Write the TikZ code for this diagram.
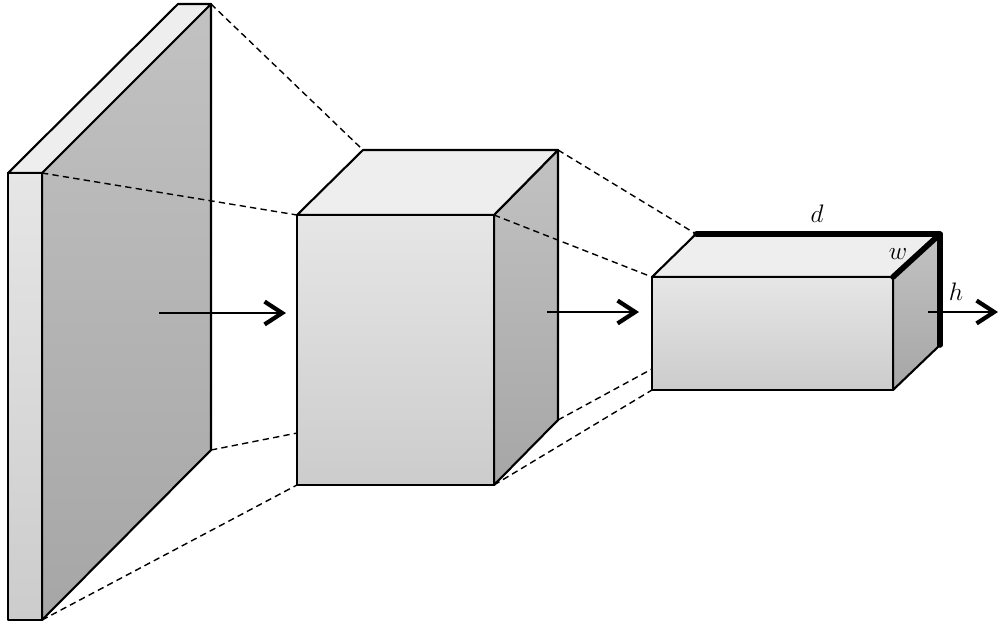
\documentclass[tikz,border=0pt]{standalone}
\usepackage{tikz}
\usetikzlibrary{arrows.meta}
\definecolor{TopGray}  {RGB}{238,238,238}
\definecolor{FrontHi}  {RGB}{230,230,230}
\definecolor{FrontLo}  {RGB}{204,204,204}
\definecolor{SideHi}   {RGB}{194,194,194}
\definecolor{SideLo}   {RGB}{166,166,166}

\begin{document}
\begin{tikzpicture}[
  x=0.02cm, y=-0.02cm,
  frontface/.style={
    draw=black, line width=1.2pt, line join=round,
    top color=FrontHi, bottom color=FrontLo},
  sideface/.style={
    draw=black, line width=1.2pt, line join=round,
    top color=SideHi, bottom color=SideLo},
  topface/.style={
    draw=black, line width=1.2pt, line join=round,
    fill=TopGray},
  proj/.style={
    dash pattern=on 3.6pt off 2.4pt,
    line width=0.8pt},
  arrow/.style={
    -{Straight Barb[length=10pt, width=13pt, line width=2.4pt]},
    line width=0.9pt},
  dimline/.style={
    line width=3.2pt, line cap=round, line join=round},
  dimlabel/.style={font=\Large, inner sep=1pt}
]
\useasboundingbox (0,0) rectangle (1000,633);

% input slab
\coordinate (aFTL) at (8,173);
\coordinate (aFTR) at (42,173);
\coordinate (aFBR) at (42,620);
\coordinate (aBTL) at (178,4);
\coordinate (aBTR) at (211,4);
\coordinate (aBBR) at (211,450);

% middle block
\coordinate (bFTL) at (297,215);
\coordinate (bFTR) at (494,215);
\coordinate (bFBL) at (297,485);
\coordinate (bFBR) at (494,485);
\coordinate (bBTL) at (363,150);
\coordinate (bBTR) at (558,150);
\coordinate (bBBR) at (558,420);
\coordinate (bBBL) at (363,420);

% output block
\coordinate (cFTL) at (652,277);
\coordinate (cFTR) at (893,277);
\coordinate (cFBL) at (652,390);
\coordinate (cFBR) at (893,390);
\coordinate (cBTL) at (696,234);
\coordinate (cBTR) at (940,234);
\coordinate (cBBR) at (940,345);
\coordinate (cBBL) at (696,345);

\draw[sideface] (aFTR) -- (aBTR) -- (aBBR) -- (aFBR) -- cycle;
\draw[topface] (aFTL) -- (aFTR) -- (aBTR) -- (aBTL) -- cycle;
\draw[frontface] (aFTL) rectangle (aFBR);

\draw[proj] (aBTR) -- (bBTL);
\draw[proj] (aFTR) -- (bFTL);
\draw[proj] (aBBR) -- (bBBL);
\draw[proj] (aFBR) -- (bFBL);

\draw[sideface] (bFTR) -- (bBTR) -- (bBBR) -- (bFBR) -- cycle;
\draw[topface] (bFTL) -- (bFTR) -- (bBTR) -- (bBTL) -- cycle;
\draw[frontface] (bFTL) rectangle (bFBR);

\draw[proj] (bBTR) -- (cBTL);
\draw[proj] (bFTR) -- (cFTL);
\draw[proj] (bBBR) -- (cBBL);
\draw[proj] (bFBR) -- (cFBL);

\draw[sideface] (cFTR) -- (cBTR) -- (cBBR) -- (cFBR) -- cycle;
\draw[topface] (cFTL) -- (cFTR) -- (cBTR) -- (cBTL) -- cycle;
\draw[frontface] (cFTL) rectangle (cFBR);

\draw[dimline] (cBTL) -- (cBTR) -- (cFTR);
\draw[dimline] (cBTR) -- (cBBR);

\node[dimlabel] (dlab) at (817,214) {$d$};
\node[dimlabel] (wlab) at (898,254) {$w$};
\node[dimlabel] (hlab) at (956,292) {$h$};

\coordinate (in1)  at (159,313);
\coordinate (out1) at (286,313);
\coordinate (in2)  at (547,312);
\coordinate (out2) at (639,312);
\coordinate (in3)  at (928,312);
\coordinate (out3) at (998,312);

\draw[arrow] (in1) -- (out1);
\draw[arrow] (in2) -- (out2);
\draw[arrow] (in3) -- (out3);
\end{tikzpicture}
\end{document}
